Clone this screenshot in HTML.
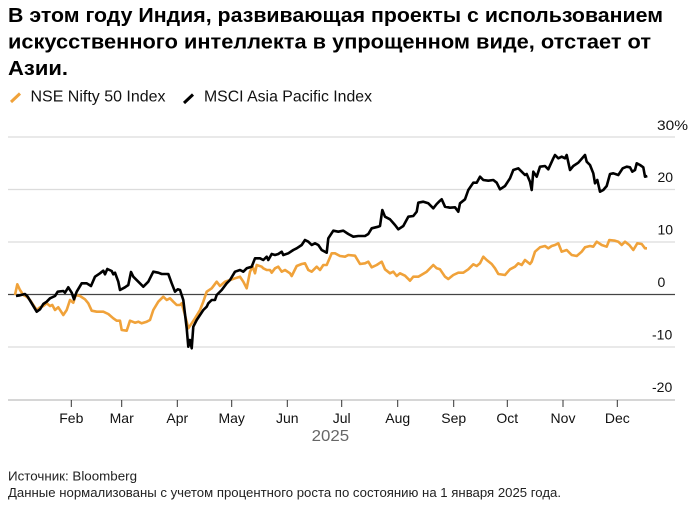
<!DOCTYPE html>
<html>
<head>
<meta charset="utf-8">
<style>
html,body{margin:0;padding:0;background:#fff;}
svg{display:block;}
text{font-family:"Liberation Sans","Noto Sans CJK SC",sans-serif;}
</style>
</head>
<body>
<svg width="693" height="509" viewBox="0 0 693 509" xmlns="http://www.w3.org/2000/svg">
<rect width="693" height="509" fill="#fff"/>
<!-- Title -->
<text x="8" y="22" font-size="20" font-weight="bold" fill="#000" textLength="655" lengthAdjust="spacingAndGlyphs">В этом году Индия, развивающая проекты с использованием</text>
<text x="8" y="48.5" font-size="20" font-weight="bold" fill="#000" textLength="643" lengthAdjust="spacingAndGlyphs">искусственного интеллекта в упрощенном виде, отстает от</text>
<text x="8" y="75" font-size="20" font-weight="bold" fill="#000" textLength="60" lengthAdjust="spacingAndGlyphs">Азии.</text>
<!-- Legend -->
<line x1="11" y1="102" x2="20" y2="93.5" stroke="#F0A23A" stroke-width="3"/>
<text x="30.5" y="101.7" font-size="16" fill="#111" textLength="135" lengthAdjust="spacingAndGlyphs">NSE Nifty 50 Index</text>
<line x1="184" y1="103" x2="193" y2="94.5" stroke="#000" stroke-width="3"/>
<text x="204" y="101.7" font-size="16" fill="#111" textLength="168" lengthAdjust="spacingAndGlyphs">MSCI Asia Pacific Index</text>
<!-- Gridlines -->
<g stroke="#dcdcdc" stroke-width="1.2">
<line x1="8" y1="137" x2="675" y2="137"/>
<line x1="8" y1="189.5" x2="675" y2="189.5"/>
<line x1="8" y1="242" x2="675" y2="242"/>
<line x1="8" y1="347" x2="675" y2="347"/>
</g>
<line x1="8" y1="400" x2="675" y2="400" stroke="#d0d0d0" stroke-width="1.8"/>
<line x1="8" y1="294.5" x2="675" y2="294.5" stroke="#444" stroke-width="1.2"/>
<!-- Y labels -->
<g font-size="14" fill="#111">
<text x="657" y="130" textLength="31" lengthAdjust="spacingAndGlyphs">30%</text>
<text x="657.5" y="182">20</text>
<text x="657.5" y="234.5">10</text>
<text x="657.5" y="287">0</text>
<text x="652" y="339.5">-10</text>
<text x="652" y="392">-20</text>
</g>
<!-- X ticks -->
<g stroke="#333" stroke-width="1">
<line x1="71.3" y1="400" x2="71.3" y2="407"/>
<line x1="121.7" y1="400" x2="121.7" y2="407"/>
<line x1="177.3" y1="400" x2="177.3" y2="407"/>
<line x1="231.7" y1="400" x2="231.7" y2="407"/>
<line x1="287.3" y1="400" x2="287.3" y2="407"/>
<line x1="341.7" y1="400" x2="341.7" y2="407"/>
<line x1="397.7" y1="400" x2="397.7" y2="407"/>
<line x1="453.7" y1="400" x2="453.7" y2="407"/>
<line x1="507.3" y1="400" x2="507.3" y2="407"/>
<line x1="563" y1="400" x2="563" y2="407"/>
<line x1="617.3" y1="400" x2="617.3" y2="407"/>
</g>
<g font-size="14" fill="#111" text-anchor="middle">
<text x="71.3" y="423">Feb</text>
<text x="121.7" y="423">Mar</text>
<text x="177.3" y="423">Apr</text>
<text x="231.7" y="423">May</text>
<text x="287.3" y="423">Jun</text>
<text x="341.7" y="423">Jul</text>
<text x="397.7" y="423">Aug</text>
<text x="453.7" y="423">Sep</text>
<text x="507.3" y="423">Oct</text>
<text x="563" y="423">Nov</text>
<text x="617.3" y="423">Dec</text>
</g>
<text x="311.7" y="441" font-size="16" fill="#666" textLength="37.5" lengthAdjust="spacingAndGlyphs">2025</text>
<!-- Series -->
<polyline fill="none" stroke="#F0A23A" stroke-width="2.6" stroke-linejoin="round" points="15,295 17.3,284.3 20,290 23.3,295 26.7,296.7 30,300 33.3,305 36.7,310 40,307.3 43.3,306 46.7,303.3 50,306 52.3,305 55,310 58.3,307.3 63.3,315 66.7,310 70,300 73.3,302.7 75.7,295 80,296 85,299.3 88.3,303.3 91.7,310.7 96.7,311.7 103.3,311.7 108.3,314 113.3,318.3 116.7,320.7 120,320.7 121.7,330 126.7,330.7 130,320.7 135,322.7 138.3,321.7 141.7,323.3 146.7,321.7 150,320 153.3,310 158.3,301.7 163.3,296.7 166.7,300 170,298.3 173.3,301.7 176.7,305 180,305 181.7,303.3 185,315 188.3,328.3 191.7,323.3 195,318.3 200,310 203.3,301.7 206.7,291.7 211.7,288.3 216.7,281.7 220,286 225,281.7 230,280 235,278.3 240,276.7 243.3,281.7 246.7,288.3 250,271.7 252.7,266.7 255,273.3 256.7,265 261.7,266.7 263.3,268.3 266.7,270 270,270 271.7,272.7 275,268.3 278.3,266.7 281.7,271.7 285,270 290,273.3 291.7,276 296.7,266 301.7,264 305,263.3 308.3,270 311.7,271.7 316.7,266.7 320,270 323.3,265 326.7,265 331.7,253.3 335,253.3 340,256 345,256.7 348.3,255 355,255.7 360,264 365,263.3 368.3,261.7 371.7,267.3 376.7,265 381.7,261.7 385,269.3 390,273.3 393.3,271.7 396.7,276 400,273.3 405,275.7 410,280.7 413.3,276.7 418.3,276.7 426.7,271.7 433.3,265 436.7,268.3 440,269.3 445,276.7 448.3,279 453.3,275 458.3,272.7 463.3,272.7 468.3,269.3 473.3,264.3 476.7,266 480,263.3 483.3,256.7 486.7,260 491.7,264 495,268.3 498.3,274 505,275 510,269.3 515,266.7 518.3,263.3 521.7,265 525,260 530,264 531.7,261.7 535,251.7 540,247.3 545,246 548.3,248.3 551.7,246 555,245 558.3,243.3 561.7,251.7 566.7,250 571.7,255 576.7,256 581.7,251.7 585,247.3 590,246 593.3,246.7 596.7,241.7 601.7,245 606.7,246.7 609.3,240 615,240.7 618.3,241.7 621.7,245 625,241.7 629.3,245 633.3,250 637.3,243.3 641.7,244 645,248.3 647,248.3"/>
<polyline fill="none" stroke="#000" stroke-width="2.6" stroke-linejoin="round" points="16,296 20,295.3 25,294 27.7,296.7 31.7,303.3 36.7,311.7 40,309.3 43.3,304 46.7,301.7 50,298.3 55,296 57.7,291.7 63.3,291 65,292.7 68.3,287.3 71.7,292.7 74,299.3 76.7,291.7 81.7,283.3 86.7,283.3 91,286 95,276.7 100,273.3 103.3,270.7 105,274.3 107.3,269 111.7,271 113.3,274.3 115,272.7 118.3,281.7 120,290 125,287.3 128.3,285 131,272 133.3,276.7 138.3,281.7 143.3,286.7 148.3,281.7 153.3,271.7 158.3,272.7 161.7,274 168.3,274 171.7,283.3 175,291.7 177.7,289.3 180,290 183.3,300 186.7,328.3 188.3,346.7 190,340 191.7,348.3 193.3,326.7 196.7,320 200,315 203.3,310 206.7,306.7 208.3,303.3 211.7,300 215,300 216.7,295 221.7,290 226.7,283.3 230,280 235,271.7 240,270 243.3,271.7 246.7,268.3 251.7,266.7 255,258.3 260,258.3 263.3,260 266.7,256.7 268.3,260 271.7,254 275,255 278.3,254 281.7,251.7 283.3,255 288.3,253.3 293.3,250 296.7,248.3 301.7,245 305,240 308.3,241.7 311.7,245 315,243.3 318.3,245 321.7,250 326.7,252.7 328.3,238.3 333.3,230.7 338.3,231.7 343.3,230.7 348.3,234 353.3,236.7 358.3,236 365,236 368.3,234 371.7,228.3 378.3,226.7 380,226 382.3,210 385,216.7 390,219.3 395,225 398.3,229.3 403.3,226 408.3,216.7 413.3,216 416.7,211.7 418.3,202.7 423.3,201.7 428.3,203.3 433.3,208.3 436.7,204 440,200.7 441.7,199.3 445,206.7 450,207.7 455,207.3 458.3,211.7 460,203.3 465,199.3 468.3,190 473.3,182.7 476.7,182.7 480,176.7 483.3,180 488.3,180.7 493.3,180 496.7,182.7 500,189.3 505,186 510,178.3 513.3,170 518.3,168.3 521.7,171.7 525,175 526.7,174 530,181.7 531.7,190 533.3,171.7 536.7,176.7 540,166.7 545,166 548.3,169.3 553.3,158.3 555,155 558.3,158.3 561.7,156.7 565,158.3 566.7,155 570,170 573.3,166 578.3,162.7 585,155 586.7,161.7 590,165 593.3,173.3 595,183.3 597.3,180 600,191.7 603.3,190 606.7,186 610,174 613.3,173.3 618.3,175 622.7,168.3 626.7,166.7 630,167.3 632.3,171.7 635,170 636.7,163.3 640,165 643.3,167.3 645,176.7 647.3,176"/>
<!-- Footer -->
<text x="8" y="480.5" font-size="12.5" fill="#222" textLength="129" lengthAdjust="spacingAndGlyphs">Источник: Bloomberg</text>
<text x="8" y="497" font-size="12.5" fill="#222" textLength="553" lengthAdjust="spacingAndGlyphs">Данные нормализованы с учетом процентного роста по состоянию на 1 января 2025 года.</text>
</svg>
</body>
</html>
